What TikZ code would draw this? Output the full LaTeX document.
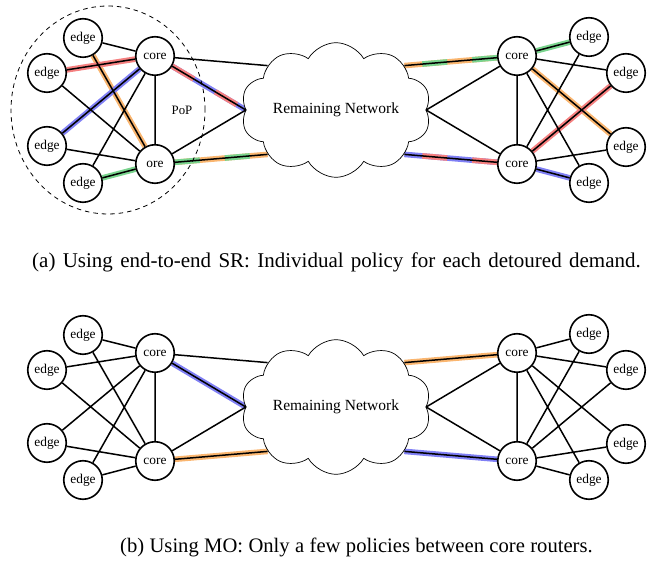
\documentclass[tikz,border=0pt]{standalone}
\usepackage{fontspec}
\setmainfont{Liberation Serif}
\usetikzlibrary{shapes.symbols}

\definecolor{hlred}{RGB}{245,128,128}
\definecolor{hlblue}{RGB}{128,128,245}
\definecolor{hlorange}{RGB}{250,182,112}
\definecolor{hlgreen}{RGB}{122,212,142}

\pgfdeclarelayer{background}
\pgfsetlayers{background,main}

% one highlighted demand on a link
\newcommand\hilink[3]{\draw[hl=#3] (#1) -- (#2);}
% two demands sharing a link: alternating colour bands
\newcommand\duolink[4]{%
  \draw[hl=#4] (#1) -- (#2);
  \draw[hl=#3, dash pattern=on 25pt off 25pt] (#1) -- (#2);}

% routers, cloud and plain links of one network; #1 = label of lower-left core
\newcommand\routernet[1]{%
  \node[router] (eTL) at (83,38)  {edge};
  \node[router] (eL1) at (47,73)  {edge};
  \node[router] (eL2) at (47,146) {edge};
  \node[router] (eBL) at (83,183) {edge};
  \node[router] (cT)  at (155,56)  {core};
  \node[router] (cB)  at (155,164) {#1};
  \node[netcloud] (net) at (336,110) {Remaining Network};
  \node[router] (rcT) at (517,56)  {core};
  \node[router] (rcB) at (517,164) {core};
  \node[router] (eTR) at (589,37)  {edge};
  \node[router] (eR1) at (626,73)  {edge};
  \node[router] (eR2) at (626,147) {edge};
  \node[router] (eBR) at (589,183) {edge};
  \draw[link] (eTL) -- (cT) (eTL) -- (cB) (eL1) -- (cT) (eL1) -- (cB)
              (eL2) -- (cT) (eL2) -- (cB) (eBL) -- (cT) (eBL) -- (cB)
              (cT) -- (cB);
  \draw[link] (cT) -- (net.147) (cT) -- (net.west)
              (cB) -- (net.west) (cB) -- (net.213);
  \draw[link] (net.33) -- (rcT) (net.east) -- (rcT)
              (net.east) -- (rcB) (net.-33) -- (rcB);
  \draw[link] (rcT) -- (rcB)
              (rcT) -- (eTR) (rcT) -- (eR1) (rcT) -- (eR2) (rcT) -- (eBR)
              (rcB) -- (eTR) (rcB) -- (eR1) (rcB) -- (eR2) (rcB) -- (eBR);
}

\begin{document}
\begin{tikzpicture}[x=1pt, y=-1pt,
  router/.style={circle, draw, line width=1.6pt, fill=white,
    minimum size=38.5pt, inner sep=0pt,
    font=\fontsize{13.4}{15}\selectfont},
  netcloud/.style={cloud, cloud puffs=10, cloud puff arc=120, aspect=1.65,
    draw, line width=0.7pt, fill=white, minimum width=190pt,
    minimum height=115pt, inner sep=0pt,
    font=\fontsize{15.5}{18}\selectfont},
  link/.style={line width=1.5pt},
  hl/.style={line width=5.6pt, draw=#1, line cap=butt},
  popline/.style={line width=0.8pt, dash pattern=on 4.5pt off 4pt},
  caption/.style={anchor=west, inner sep=0pt},
  poplabel/.style={font=\fontsize{12.8}{14}\selectfont}]

\useasboundingbox (0,0) rectangle (657,561);

% ---- (a) end-to-end segment routing ----
\begin{scope}[name prefix=a-]
  \draw[popline] (108,110) ellipse [x radius=97pt, y radius=104pt];
  \node[poplabel] (pop) at (182,110) {PoP};
  \routernet{ore}
  \begin{pgfonlayer}{background}
    \hilink{eTL}{cB}{hlorange}
    \hilink{eL1}{cT}{hlred}
    \hilink{eL2}{cT}{hlblue}
    \hilink{eBL}{cB}{hlgreen}
    \duolink{cT}{net.west}{hlred}{hlblue}
    \duolink{cB}{net.213}{hlgreen}{hlorange}
    \duolink{rcT}{net.33}{hlgreen}{hlorange}
    \duolink{rcB}{net.-33}{hlred}{hlblue}
    \hilink{rcT}{eTR}{hlgreen}
    \hilink{rcT}{eR2}{hlorange}
    \hilink{rcB}{eR1}{hlred}
    \hilink{rcB}{eBR}{hlblue}
  \end{pgfonlayer}
\end{scope}
\node[caption, font=\fontsize{21}{25}\selectfont] (capa) at (32,262)
  {\spaceskip=7.3pt plus 1pt (a) Using end-to-end SR: Individual policy for each detoured demand.};

% ---- (b) policies between core routers only ----
\begin{scope}[yshift=-297pt, name prefix=b-]
  \routernet{core}
  \begin{pgfonlayer}{background}
    \hilink{cT}{net.west}{hlblue}
    \hilink{cB}{net.213}{hlorange}
    \hilink{net.33}{rcT}{hlorange}
    \hilink{net.-33}{rcB}{hlblue}
  \end{pgfonlayer}
\end{scope}
\node[caption, font=\fontsize{20.6}{25}\selectfont] (capb) at (120,547)
  {\spaceskip=5.4pt plus 1pt (b) Using MO: Only a few policies between core routers.};

\end{tikzpicture}
\end{document}
